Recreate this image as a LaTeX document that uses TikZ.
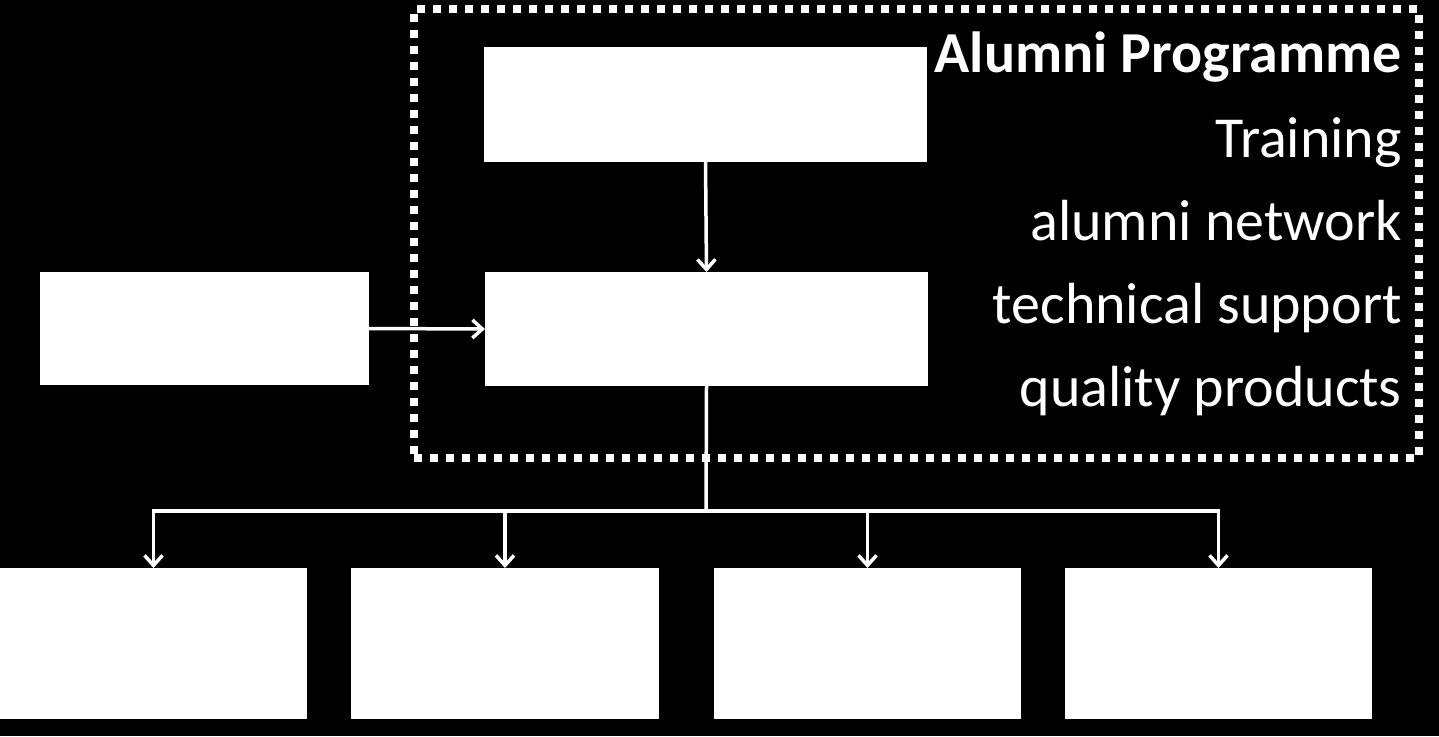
\documentclass[tikz,border=0pt]{standalone}
\usepackage{fontspec}
\setmainfont{Carlito}
\usetikzlibrary{arrows.meta}
\begin{document}
\begin{tikzpicture}[x=1pt,y=-1pt,
 box/.style={fill=white,draw=none,inner sep=0pt,outer sep=0pt,anchor=north west},
 conn/.style={draw=white,line width=3.5pt},
 arr/.style={conn,-{Straight Barb[length=10pt,width=18pt,line width=3.5pt]}},
 grpbox/.style={draw=white,line width=8pt,dash pattern=on 8pt off 8pt,inner sep=0pt,outer sep=0pt,anchor=north west},
 lbl/.style={text=white,anchor=base east,inner sep=0pt,font=\fontsize{58}{60}\selectfont}]
\fill[black] (0,0) rectangle (1439,736);
\useasboundingbox (0,0) rectangle (1439,736);
\node[grpbox,minimum width=1005pt,minimum height=449pt] (grp) at (414,9) {};
\node[box,minimum width=443pt,minimum height=115pt] (top) at (484,47) {};
\node[box,minimum width=443pt,minimum height=114pt] (mid) at (485,272) {};
\node[box,minimum width=329pt,minimum height=113pt] (left) at (40,272) {};
\node[box,minimum width=307pt,minimum height=151pt] (b1) at (0,568) {};
\node[box,minimum width=308pt,minimum height=151pt] (b2) at (351,568) {};
\node[box,minimum width=307pt,minimum height=151pt] (b3) at (714,568) {};
\node[box,minimum width=307pt,minimum height=151pt] (b4) at (1065,568) {};
\coordinate (j) at (706,511);
\draw[arr] (top.south) -- (mid.north);
\draw[arr] (left.east) -- (mid.west);
\draw[conn] (mid.south) -- (j);
\draw[arr] (j) -| (b1.north);
\draw[arr] (j) -| (b2.north);
\draw[arr] (j) -| (b3.north);
\draw[arr] (j) -| (b4.north);
\node[lbl] (t1) at (1402,72) {\bfseries Alumni Programme};
\node[lbl] (t2) at (1402,157) {Training};
\node[lbl] (t3) at (1402,240) {alumni network};
\node[lbl] (t4) at (1402,323) {technical support};
\node[lbl] (t5) at (1402,406) {quality products};
\end{tikzpicture}
\end{document}
